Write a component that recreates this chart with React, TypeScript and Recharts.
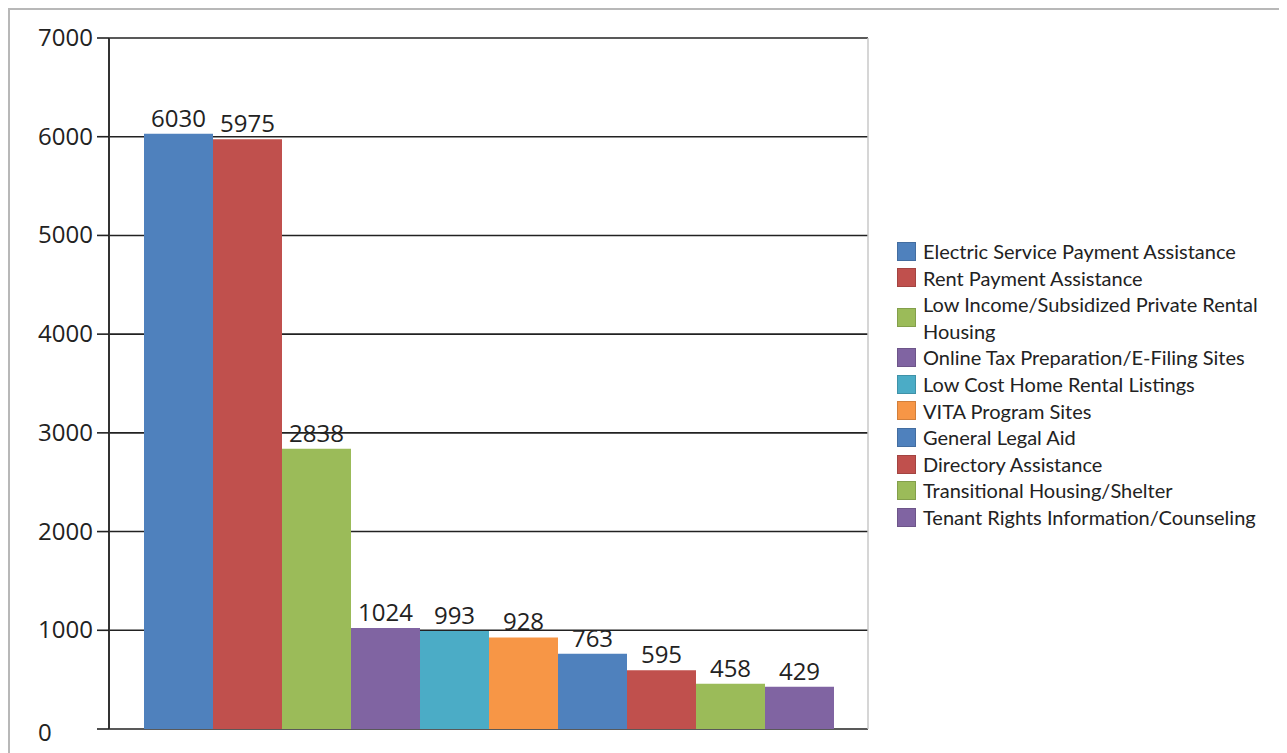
import React from "react";
import { BarChart, Bar, XAxis, YAxis, CartesianGrid, Legend, LabelList } from "recharts";

const seriesNames = [
  "Electric Service Payment Assistance",
  "Rent Payment Assistance",
  "Low Income/Subsidized Private Rental Housing",
  "Online Tax Preparation/E-Filing Sites",
  "Low Cost Home Rental Listings",
  "VITA Program Sites",
  "General Legal Aid",
  "Directory Assistance",
  "Transitional Housing/Shelter",
  "Tenant Rights Information/Counseling",
];
const seriesValues = [6030, 5975, 2838, 1024, 993, 928, 763, 595, 458, 429];
const seriesColors = [
  "#4F81BD", "#C0504D", "#9BBB59", "#8064A2", "#4BACC6",
  "#F79646", "#4F81BD", "#C0504D", "#9BBB59", "#8064A2",
];
const yTicks = [0, 1000, 2000, 3000, 4000, 5000, 6000, 7000];

const row: Record<string, any> = { name: "" };
seriesValues.forEach((v, i) => {
  row["s" + i] = v;
});
const data = [row];

const NUM_FONT = "'Open Sans', sans-serif";
const LEG_FONT = "Lato, sans-serif";

const YTick = (props: any) => {
  const { x, y, payload } = props;
  if (payload.value === 0) {
    return (
      <text x={28} y={y + 2} textAnchor="start" dominantBaseline="central" fontFamily={NUM_FONT} fontSize={24} fill="#222">
        {payload.value}
      </text>
    );
  }
  return (
    <text x={x} y={y - 1.5} textAnchor="end" dominantBaseline="central" fontFamily={NUM_FONT} fontSize={24} fill="#222">
      {payload.value}
    </text>
  );
};

const LegendContent = () => (
  <div style={{ width: 382, paddingLeft: 28, fontFamily: LEG_FONT, fontSize: 20, color: "#222", lineHeight: "26.6px" }}>
    {seriesNames.map((n, i) => (
      <div key={n} style={{ display: "flex", alignItems: "center" }}>
        <div
          style={{
            width: 19,
            height: 19,
            background: seriesColors[i],
            boxShadow: "inset 0 0 0 1px rgba(0,0,0,0.15)",
            flexShrink: 0,
            marginRight: 7,
          }}
        />
        <div style={{ width: 345 }}>{n}</div>
      </div>
    ))}
  </div>
);

export default function App() {
  return (
    <div style={{ position: "relative", width: 1295, height: 760, border: "2px solid #b8b8b8", background: "#fff" }}>
      <BarChart
        width={1275}
        height={740}
        data={data}
        margin={{ top: 28, left: 0, bottom: 21, right: 6 }}
        barCategoryGap={35}
        barGap={0}
      >
        <CartesianGrid yAxisId="left" horizontal vertical={false} stroke="#222" strokeWidth={1.6} />
        <XAxis dataKey="name" tick={false} tickLine={false} height={0} axisLine={{ stroke: "#333", strokeWidth: 1.6 }} />
        <YAxis
          yAxisId="left"
          width={99}
          domain={[0, 7000]}
          ticks={yTicks}
          interval={0}
          tickSize={12}
          tickMargin={4}
          axisLine={{ stroke: "#333", strokeWidth: 2 }}
          tickLine={{ stroke: "#222", strokeWidth: 1.6 }}
          tick={<YTick />}
        />
        <YAxis yAxisId="right" orientation="right" width={1} tick={false} tickLine={false} axisLine={{ stroke: "#c8c8c8", strokeWidth: 1.5 }} domain={[0, 7000]} />
        <Legend
          layout="vertical"
          align="right"
          verticalAlign="middle"
          content={<LegendContent />}
          wrapperStyle={{ top: 228 }}
        />
        {seriesNames.map((n, i) => (
          <Bar key={n} yAxisId="left" dataKey={"s" + i} name={n} fill={seriesColors[i]} isAnimationActive={false}>
            <LabelList dataKey={"s" + i} position="top" offset={7} fontFamily={NUM_FONT} fontSize={24} fill="#222" />
          </Bar>
        ))}
      </BarChart>
    </div>
  );
}
